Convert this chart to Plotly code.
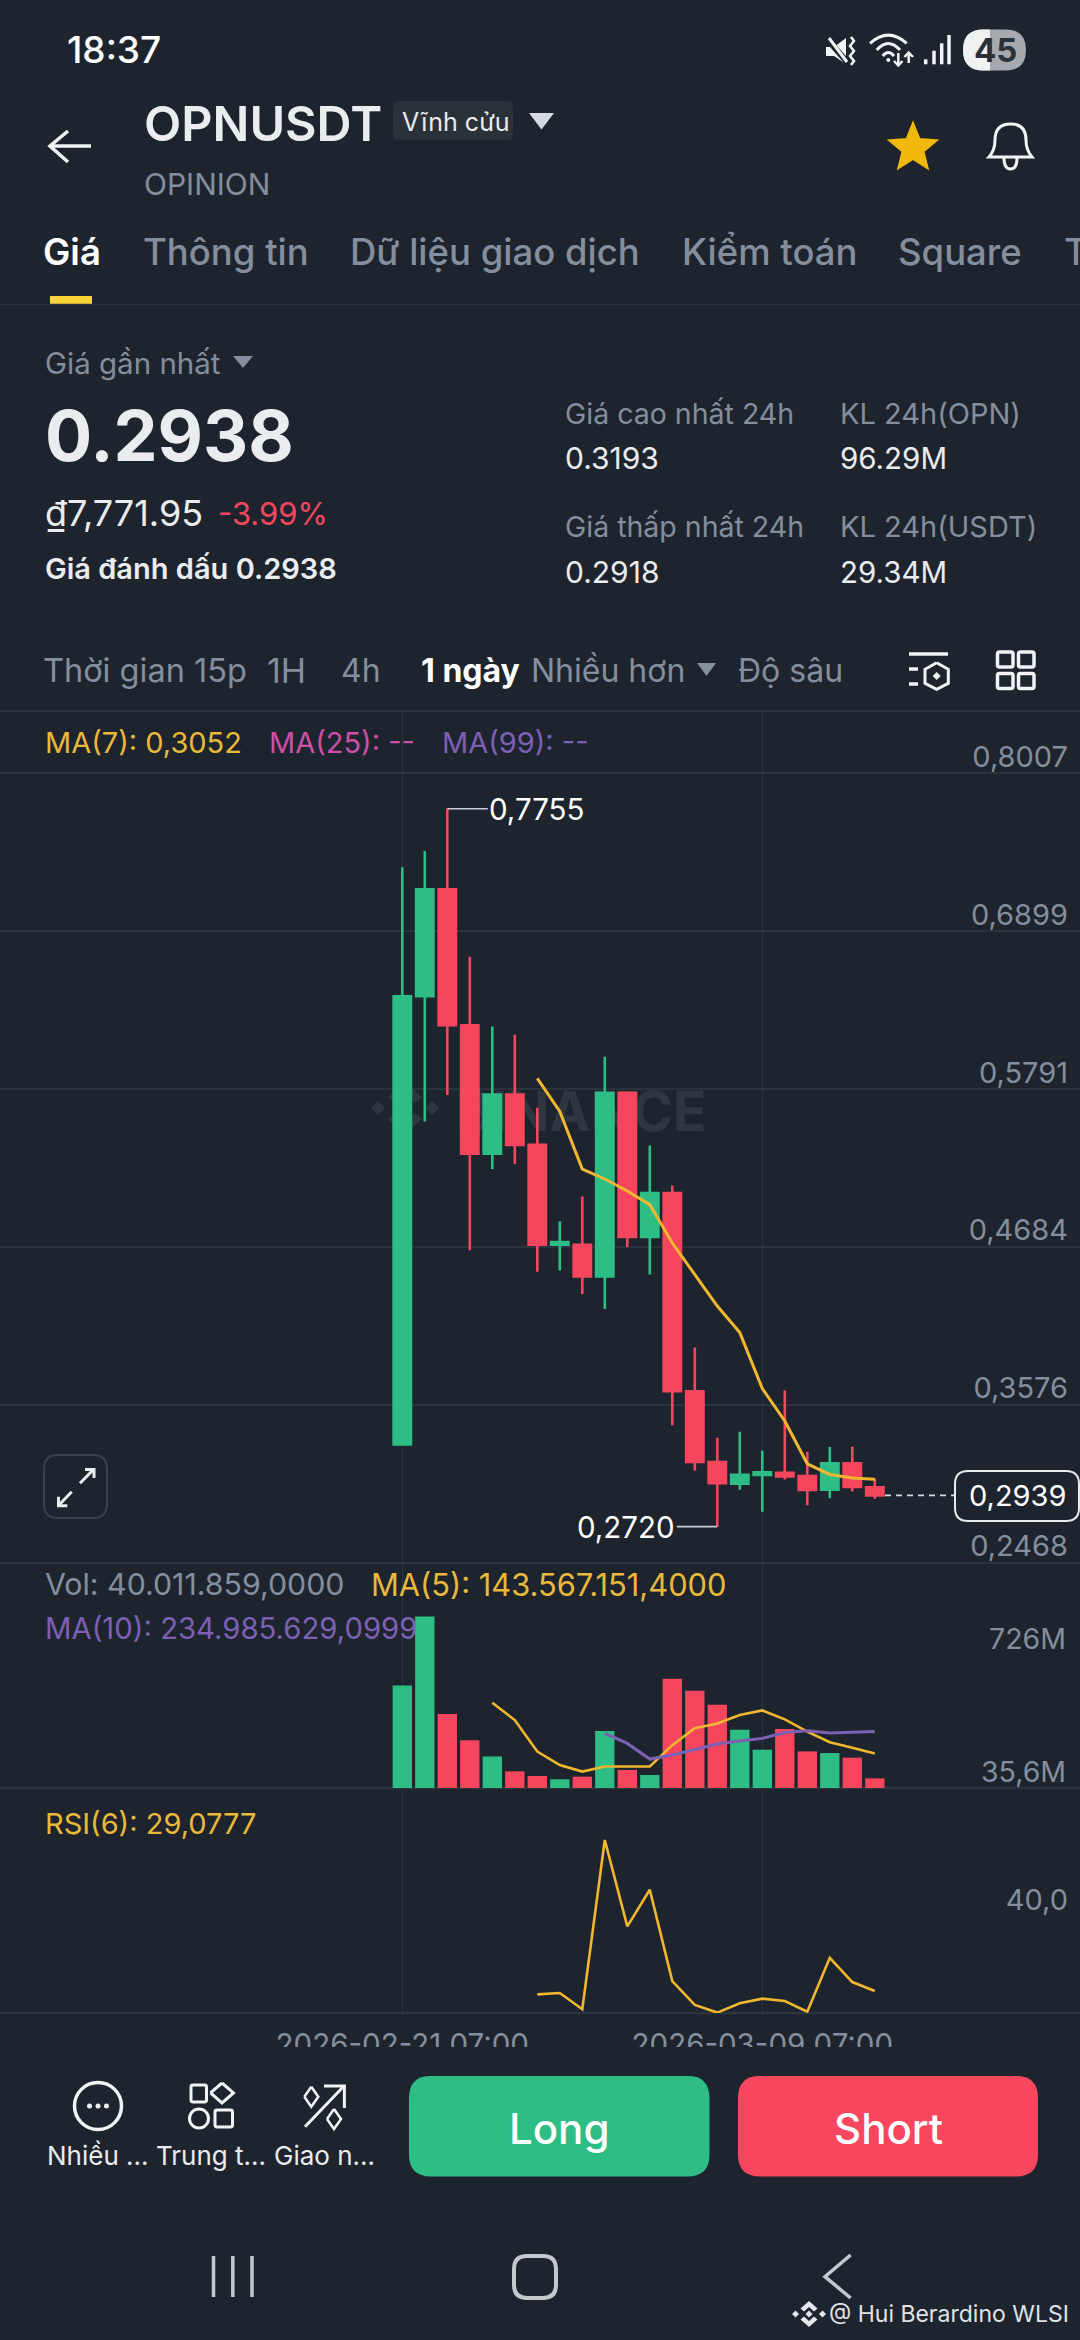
"""
OPNUSDT perpetual daily chart, phone screenshot layout.
"""
import math

import pandas as pd
import plotly.graph_objects as go
from plotly.subplots import make_subplots

### DATA
dates = [
    '2026-02-21 07:00', '2026-02-22 07:00', '2026-02-23 07:00', '2026-02-24 07:00',
    '2026-02-25 07:00', '2026-02-26 07:00', '2026-02-27 07:00', '2026-02-28 07:00',
    '2026-03-01 07:00', '2026-03-02 07:00', '2026-03-03 07:00', '2026-03-04 07:00',
    '2026-03-05 07:00', '2026-03-06 07:00', '2026-03-07 07:00', '2026-03-08 07:00',
    '2026-03-09 07:00', '2026-03-10 07:00', '2026-03-11 07:00', '2026-03-12 07:00',
    '2026-03-13 07:00', '2026-03-14 07:00',
]
opens = [.3297, .6440, .7190, .6236, .5336, .5751, .5397, .4697, .4697, .4474, .5762,
         .4751, .5059, .3670, .3173, .3021, .3083, .3098, .3074, .2980, .3165, .2996]
highs = [.7344, .7459, .7755, .6717, .6228, .6170, .5658, .4862, .5036, .6016, .5762,
         .5393, .5112, .3977, .3343, .3386, .3252, .3675, .3246, .3278, .3281, .3058]
lows = [.3297, .5562, .5747, .4658, .5228, .5263, .4508, .4516, .4351, .4247, .4682,
        .4489, .3431, .3112, .2720, .2978, .2825, .3051, .2870, .2919, .2967, .2916]
closes = [.6440, .7190, .6236, .5336, .5751, .5397, .4697, .4716, .4474, .5762, .4751,
          .5059, .3670, .3173, .3024, .3083, .3101, .3072, .2978, .3165, .2999, .2939]
ma7 = [None] * 6 + [.5863, .5632, .5228, .5158, .5074, .4978, .4709, .4485, .4267, .4081,
                    .3689, .3461, .3161, .3086, .3061, .3052]

volumes = [426, 712, 307, 198, 131, 69, 50, 36, 47, 237, 75, 54,
           454, 404, 346, 242, 159, 245, 152, 145, 126, 40.01]
vol_ma5 = [None] * 4 + [354, 282, 151, 95, 68, 89, 89, 89, 178, 248, 268, 303,
                        322, 285, 234, 190, 167, 143.57]
vol_ma10 = [None] * 9 + [227, 185, 120, 137, 160, 183, 195, 206, 230, 238, 228, 232, 234.99]

rsi6 = [None] * 6 + [28.6, 28.79, 26.44, 50.97, 38.46, 43.75, 30.52, 27.06, 25.96,
                     27.30, 27.98, 27.63, 26.09, 33.9, 30.38, 29.08]

price_ticks = [.8007, .6899, .5791, .4684, .3576, .2468]
price_tick_labels = ['0,8007', '0,6899', '0,5791', '0,4684', '0,3576', '0,2468']
date_ticks = ['2026-02-21 07:00', '2026-03-09 07:00']

### STYLE
W, H = 1080, 2340
BG = '#1e242e'
GRID = '#2c333d'
UP = '#2ebd85'
DOWN = '#f6465d'
GRAY = '#848e9c'
LIGHT = '#eaecef'
YELLOW = '#e9b93a'
MA_LINE = '#f0b72f'
PURPLE = '#7d60b4'
PINK = '#cc4fa6'
FONT = 'Inter'

annotations = []
shapes = []


def fx(x):
    return x / W


def fy(y):
    return 1 - y / H


def label(text, x, y, size, color=LIGHT, anchor='left', weight=400):
    annotations.append(dict(
        text=text, x=fx(x), y=fy(y), xref='paper', yref='paper', xanchor=anchor, yanchor='middle',
        showarrow=False, borderpad=0,
        font=dict(family=FONT, size=size, color=color, weight=weight),
    ))


def path_of(points, closed=False):
    head, *rest = points
    out = f'M {fx(head[0]):.5f} {fy(head[1]):.5f} '
    out += ' '.join(f'L {fx(a):.5f} {fy(b):.5f}' for a, b in rest)
    return out + (' Z' if closed else '')


def draw(path, color=None, width=0, fill=None, layer='above'):
    shapes.append(dict(
        type='path', path=path, xref='paper', yref='paper', layer=layer,
        line=dict(color=color or 'rgba(0,0,0,0)', width=width),
        fillcolor=fill or 'rgba(0,0,0,0)',
    ))


def poly(points, color=None, width=0, fill=None, layer='above'):
    draw(path_of(points, closed=fill is not None), color, width, fill, layer)


def curve(commands, color, width, fill=None):
    """commands: (letter, x, y, ...) in screen pixels."""
    out = []
    for cmd in commands:
        nums = cmd[1:]
        pairs = [f'{fx(nums[i]):.5f} {fy(nums[i + 1]):.5f}' for i in range(0, len(nums), 2)]
        out.append(cmd[0] + ' ' + ' '.join(pairs))
    draw(' '.join(out), color, width, fill)


def rrect(x0, y0, x1, y1, r, color=None, width=0, fill=None):
    curve([
        ('M', x0 + r, y0), ('L', x1 - r, y0), ('Q', x1, y0, x1, y0 + r),
        ('L', x1, y1 - r), ('Q', x1, y1, x1 - r, y1), ('L', x0 + r, y1),
        ('Q', x0, y1, x0, y1 - r), ('L', x0, y0 + r), ('Q', x0, y0, x0 + r, y0), ('Z',),
    ], color, width, fill)


def circle(cx, cy, r, color=None, width=0, fill=None):
    shapes.append(dict(
        type='circle', xref='paper', yref='paper', layer='above',
        x0=fx(cx - r), x1=fx(cx + r), y0=fy(cy + r), y1=fy(cy - r),
        line=dict(color=color or 'rgba(0,0,0,0)', width=width),
        fillcolor=fill or 'rgba(0,0,0,0)',
    ))


def diamond(cx, cy, hw, hh, color=None, width=0, fill=None, layer='above'):
    poly([(cx, cy - hh), (cx + hw, cy), (cx, cy + hh), (cx - hw, cy)], color, width, fill, layer)
    if fill is None:
        # close the outline
        poly([(cx - hw, cy), (cx, cy - hh)], color, width)


def binance_logo(cx, cy, s, color, layer):
    diamond(cx, cy, 7 * s, 7 * s, fill=color, layer=layer)
    diamond(cx - 27 * s, cy, 7 * s, 7 * s, fill=color, layer=layer)
    diamond(cx + 27 * s, cy, 7 * s, 7 * s, fill=color, layer=layer)
    for sign in (-1, 1):
        poly([(cx, cy + sign * 26 * s), (cx + 17 * s, cy + sign * 11 * s),
              (cx + 10 * s, cy + sign * 5 * s), (cx, cy + sign * 14 * s),
              (cx - 10 * s, cy + sign * 5 * s), (cx - 17 * s, cy + sign * 11 * s)],
             fill=color, layer=layer)


### CHART
fig = make_subplots(rows=3, cols=1, shared_xaxes=True)

fig.add_trace(go.Candlestick(
    x=dates, open=opens, high=highs, low=lows, close=closes,
    increasing=dict(line=dict(color=UP, width=2.6), fillcolor=UP),
    decreasing=dict(line=dict(color=DOWN, width=2.6), fillcolor=DOWN),
    whiskerwidth=0,
), row=1, col=1)
fig.add_trace(go.Scatter(
    x=dates, y=ma7, mode='lines', line=dict(color=MA_LINE, width=3),
), row=1, col=1)

bar_colors = [UP if c >= o else DOWN for o, c in zip(opens, closes)]
fig.add_trace(go.Bar(x=dates, y=volumes, marker=dict(color=bar_colors, line=dict(width=0))), row=2, col=1)
fig.add_trace(go.Scatter(x=dates, y=vol_ma5, mode='lines', line=dict(color=MA_LINE, width=2.6)), row=2, col=1)
fig.add_trace(go.Scatter(x=dates, y=vol_ma10, mode='lines', line=dict(color=PURPLE, width=3)), row=2, col=1)

fig.add_trace(go.Scatter(x=dates, y=rsi6, mode='lines', line=dict(color=MA_LINE, width=2.6)), row=3, col=1)

# one day is 22.5 px and the 21 Feb candle sits at x=402.3 px
first = pd.Timestamp(dates[0])
x_range = [first - pd.Timedelta(days=402.3 / 22.5), first + pd.Timedelta(days=(W - 402.3) / 22.5)]
fig.update_xaxes(
    type='date', range=x_range, tickmode='array', tickvals=date_ticks,
    tickformat='%Y-%m-%d %H:%M', showgrid=True, gridcolor=GRID, gridwidth=1.2,
    zeroline=False, showline=False, ticks='', rangeslider_visible=False,
    tickfont=dict(family=FONT, size=29.5, color=GRAY),
)
fig.update_xaxes(ticklabelstandoff=11, row=3, col=1)

fig.update_yaxes(
    side='right', zeroline=False, showline=False, ticks='',
    ticklabelposition='inside top', ticklabelstandoff=9, ticklabelshift=4,
    tickfont=dict(family=FONT, size=29, color=GRAY),
)
# the price panel runs a little under the volume panel's top, else the shifted 0,2468 label gets dropped
fig.update_yaxes(
    domain=[fy(1571), fy(711)], range=[.2409, .8440], tickmode='array', tickvals=price_ticks,
    ticktext=price_tick_labels, showgrid=True, gridcolor=GRID, gridwidth=1.5, row=1, col=1,
)
fig.update_yaxes(domain=[fy(1788), fy(1563)], range=[0, 934], showgrid=False, showticklabels=False, row=2, col=1)
fig.update_yaxes(
    domain=[fy(2013), fy(1788)], range=[25.9, 58.5], tickmode='array', tickvals=[40],
    ticktext=['40,0'], showgrid=False, row=3, col=1,
)

### WATERMARK (stays under the candles)
binance_logo(405, 1108, 1.0, '#2f3640', 'below')
shapes.append(dict(
    type='rect', xref='paper', yref='paper', layer='below',
    x0=fx(450), x1=fx(712), y0=fy(1135), y1=fy(1082), line=dict(width=0),
    fillcolor='rgba(0,0,0,0)',
    label=dict(text='<b>BINANCE</b>', textposition='middle center',
               font=dict(family=FONT, size=55, color='#2f3640')),
))

### PANEL BORDERS, drawn under the traces
for y in (711, 1788, 2013):
    poly([(0, y), (W, y)], GRID, 2.5, layer='below')

### PRICE MARKERS
annotations.append(dict(
    x=dates[2], y=max(highs), xref='x', yref='y', text='0,7755', showarrow=True, axref='pixel', ayref='pixel',
    ax=90, ay=0, arrowhead=0, arrowwidth=1.6, arrowcolor='#c8ccd2', standoff=0, startstandoff=0,
    font=dict(family=FONT, size=29.5, color='#ffffff'),
))
annotations.append(dict(
    x=dates[14], y=min(lows), xref='x', yref='y', text='0,2720', showarrow=True, axref='pixel', ayref='pixel',
    ax=-91, ay=0, arrowhead=0, arrowwidth=1.6, arrowcolor='#c8ccd2', standoff=0, startstandoff=0,
    font=dict(family=FONT, size=29.5, color='#ffffff'),
))
shapes.append(dict(
    type='line', xref='paper', yref='y', layer='above', x0=fx(885), x1=fx(955),
    y0=closes[-1], y1=closes[-1], line=dict(color='#d5d8dc', width=1.6, dash='6px,5px'),
))

### COVER under the x labels: the app's footer cuts them off
shapes.append(dict(
    type='rect', xref='paper', yref='paper', layer='above',
    x0=0, x1=1, y0=0, y1=fy(2047), line=dict(width=0), fillcolor=BG,
))
rrect(955, 1471, 1079, 1521, 13, '#e8eaed', 2, BG)
label('0,2939', 1017, 1496, 29, '#ffffff', 'center')

### STATUS BAR
label('18:37', 66, 49, 37, '#ffffff', weight=500)
poly([(826, 47), (834, 47), (846, 38), (846, 64), (834, 56), (826, 56)], fill='#f2f3f5')
poly([(827, 39), (848, 63)], BG, 6)
poly([(829, 38), (847, 62)], '#f2f3f5', 3)
poly([(851, 37), (854, 41), (850, 46), (854, 51), (850, 56), (854, 61), (851, 65)], '#f2f3f5', 2.5)
curve([('M', 870, 43.3), ('Q', 888.3, 27, 906.7, 43.3)], '#f2f3f5', 3)
curve([('M', 876.7, 50), ('Q', 888.3, 37, 900, 50)], '#f2f3f5', 3)
curve([('M', 882.7, 56), ('Q', 888.3, 49, 894, 56)], '#f2f3f5', 3)
circle(888.3, 60, 2, fill='#f2f3f5')
poly([(898.3, 53), (898.3, 65)], '#f2f3f5', 2.5)
poly([(894, 61), (898.3, 65.5), (902.5, 61)], '#f2f3f5', 2.5)
poly([(908.7, 63), (908.7, 53)], '#f2f3f5', 2.5)
poly([(904.5, 57), (908.7, 52.5), (913, 57)], '#f2f3f5', 2.5)
for bar_x, bar_top in zip((925.7, 934, 941.7, 949), (59.3, 50.7, 43.3, 35)):
    poly([(bar_x, bar_top), (bar_x, 64.3)], '#f2f3f5', 3.5)
rrect(963, 29.5, 1026, 70.5, 20.5, fill='#a6a9ae')
curve([('M', 990, 29.5), ('L', 983.5, 29.5), ('Q', 963, 29.5, 963, 50), ('Q', 963, 70.5, 983.5, 70.5),
       ('L', 990, 70.5), ('Z',)], None, 0, '#eff1f3')
label('45', 995, 50, 33, '#2b3139', 'center', 700)

### HEADER
poly([(91, 146), (51, 146)], '#f2f3f5', 3.5)
poly([(68, 131), (50, 146), (68, 162)], '#f2f3f5', 3.5)
label('OPNUSDT', 143, 123, 48.5, LIGHT, weight=600)
rrect(393, 101, 513, 140, 6, fill='#2b3139')
label('Vĩnh cửu', 401, 122, 25, LIGHT)
poly([(529, 113), (554, 113), (541.5, 129.5)], fill='#d5d8dc')
label('OPINION', 143, 184, 30, GRAY)
star = []
for i in range(10):
    radius = 25 if i % 2 == 0 else 11
    angle = math.radians(-90 + 36 * i)
    star.append((913 + radius * math.cos(angle), 148 + radius * math.sin(angle)))
poly(star, '#f0b90b', 2, '#f0b90b')
curve([('M', 989, 157), ('Q', 995, 150, 995, 140), ('Q', 995, 124, 1010.5, 124), ('Q', 1026, 124, 1026, 140),
       ('Q', 1026, 150, 1032, 157), ('Z',)], '#f2f3f5', 3)
curve([('M', 1004, 158), ('Q', 1004, 169, 1010.5, 169), ('Q', 1017, 169, 1017, 158)], '#f2f3f5', 3)

### TABS
label('Giá', 42, 252, 36.5, '#ffffff', weight=600)
for text, x in (('Thông tin', 142), ('Dữ liệu giao dịch', 349), ('Kiểm toán', 681), ('Square', 897), ('T', 1063)):
    label(text, x, 252, 36.5, GRAY, weight=500)
rrect(50, 296, 92, 304, 0, fill='#fcd535')
poly([(0, 304.5), (W, 304.5)], GRID, 1.5)

### PRICE SUMMARY
label('Giá gần nhất', 44, 363, 29.5, GRAY)
poly([(233, 356), (253, 356), (243, 368)], fill=GRAY)
label('0.2938', 44, 435, 70, LIGHT, weight=700)
label('₫7,771.95', 44, 513, 36, LIGHT)
label('-3.99%', 217, 513, 31, DOWN)
label('Giá đánh dấu 0.2938', 44, 568, 29, LIGHT, weight=600)
label('Giá cao nhất 24h', 564, 413, 28.5, GRAY)
label('KL 24h(OPN)', 839, 413, 29, GRAY)
label('0.3193', 564, 458, 30, LIGHT)
label('96.29M', 839, 458, 29.5, LIGHT)
label('Giá thấp nhất 24h', 564, 526, 28.5, GRAY)
label('KL 24h(USDT)', 839, 526, 29, GRAY)
label('0.2918', 564, 572, 30, LIGHT)
label('29.34M', 839, 572, 29.5, LIGHT)

### INTERVALS
for text, size, x in (('Thời gian 15p', 32.5, 42), ('1H', 34, 266), ('4h', 32, 340),
                      ('Nhiều hơn', 32, 530), ('Độ sâu', 32, 737)):
    label(text, x, 670, size, GRAY)
label('1 ngày', 420, 670, 32, '#ffffff', weight=700)
poly([(697, 663), (716, 663), (706.5, 676)], fill=GRAY)
poly([(909, 654), (948, 654)], '#f2f3f5', 3.5)
poly([(909, 669), (918, 669)], '#f2f3f5', 3.5)
poly([(909, 684), (918, 684)], '#f2f3f5', 3.5)
poly([(936.7, 662.7), (948.3, 669.3), (948.3, 683.3), (936.7, 689.3), (925, 683.3), (925, 669.3), (936.7, 662.7)],
     '#f2f3f5', 3)
diamond(936.7, 676, 4, 4, fill='#f2f3f5')
for x0 in (997.5, 1018.5):
    for y0 in (652, 673.5):
        rrect(x0, y0, x0 + 15.5, y0 + 15, 2, '#f2f3f5', 3.5)

### LEGENDS
label('MA(7): 0,3052', 44, 742, 29, YELLOW)
label('MA(25): --', 268, 742, 29, PINK)
label('MA(99): --', 441, 742, 29, PURPLE)
label('Vol: 40.011.859,0000', 44, 1584, 30.3, GRAY)
label('MA(5): 143.567.151,4000', 370, 1584, 30.8, YELLOW)
label('MA(10): 234.985.629,0999', 44, 1628, 29.3, PURPLE)
label('RSI(6): 29,0777', 44, 1823, 29, YELLOW)
# These two sit where the app puts them, not where the bars' scale would
label('726M', 1067, 1638, 28.5, GRAY, 'right')
label('35,6M', 1067, 1771, 28.5, GRAY, 'right')

### EXPAND BUTTON
rrect(44, 1455, 107, 1518, 14, '#3a414b', 2)
poly([(80, 1483.3), (93, 1470)], LIGHT, 3)
poly([(85, 1469.5), (94, 1469.5), (94, 1478)], LIGHT, 3)
poly([(71.7, 1491.7), (59, 1505)], LIGHT, 3)
poly([(58.5, 1496.7), (58.5, 1505.7), (67.3, 1505.7)], LIGHT, 3)

### FOOTER
circle(98, 2106, 23.5, '#f2f3f5', 3.5)
for dot_x in (89.5, 98, 106.5):
    circle(dot_x, 2106, 2.5, fill='#f2f3f5')
label('Nhiều ...', 98, 2155, 26, LIGHT, 'center')
rrect(191, 2085, 206.5, 2102, 2, '#f2f3f5', 3)
diamond(222, 2093, 11.5, 10, '#f2f3f5', 3)
circle(199, 2118.5, 9.5, '#f2f3f5', 3)
rrect(215, 2110, 232.5, 2127, 2, '#f2f3f5', 3)
label('Trung t...', 211, 2155, 26, LIGHT, 'center')
poly([(305, 2126.7), (344, 2086)], '#f2f3f5', 3)
poly([(324, 2086), (344.4, 2086), (344.4, 2108)], '#f2f3f5', 3)
diamond(311.3, 2096.7, 7, 10, '#f2f3f5', 2.5)
diamond(334, 2119, 7, 10, '#f2f3f5', 2.5)
label('Giao n...', 324, 2155, 26, LIGHT, 'center')

rrect(409, 2076, 709.5, 2176.5, 22, fill=UP)
rrect(738, 2076, 1038, 2176.5, 22, fill='#f8465e')
label('Long', 559, 2128, 42, '#ffffff', 'center', 500)
label('Short', 888, 2128, 42, '#ffffff', 'center', 500)

for bar_x in (213.5, 232.8, 252):
    poly([(bar_x, 2256), (bar_x, 2297)], '#c5c8cc', 3.5)
rrect(514, 2256, 556, 2298, 13, '#c5c8cc', 4)
poly([(850.6, 2255), (825, 2276.7), (850.6, 2298)], '#c5c8cc', 3.5)
binance_logo(809, 2314, .5, '#e4e7ea', 'above')
label('@ Hui Berardino WLSI', 828, 2314, 23, '#dfe3e8')

fig.update_layout(
    width=W, height=H, margin=dict(l=0, r=0, t=0, b=0, pad=0),
    paper_bgcolor=BG, plot_bgcolor='rgba(0,0,0,0)', showlegend=False,
    boxgap=.23, boxgroupgap=0, bargap=.14,
    annotations=annotations, shapes=shapes,
    font=dict(family=FONT),
)

fig.write_html("out.html", config={'displayModeBar': False}, post_script="document.body.style.margin = '0';")
